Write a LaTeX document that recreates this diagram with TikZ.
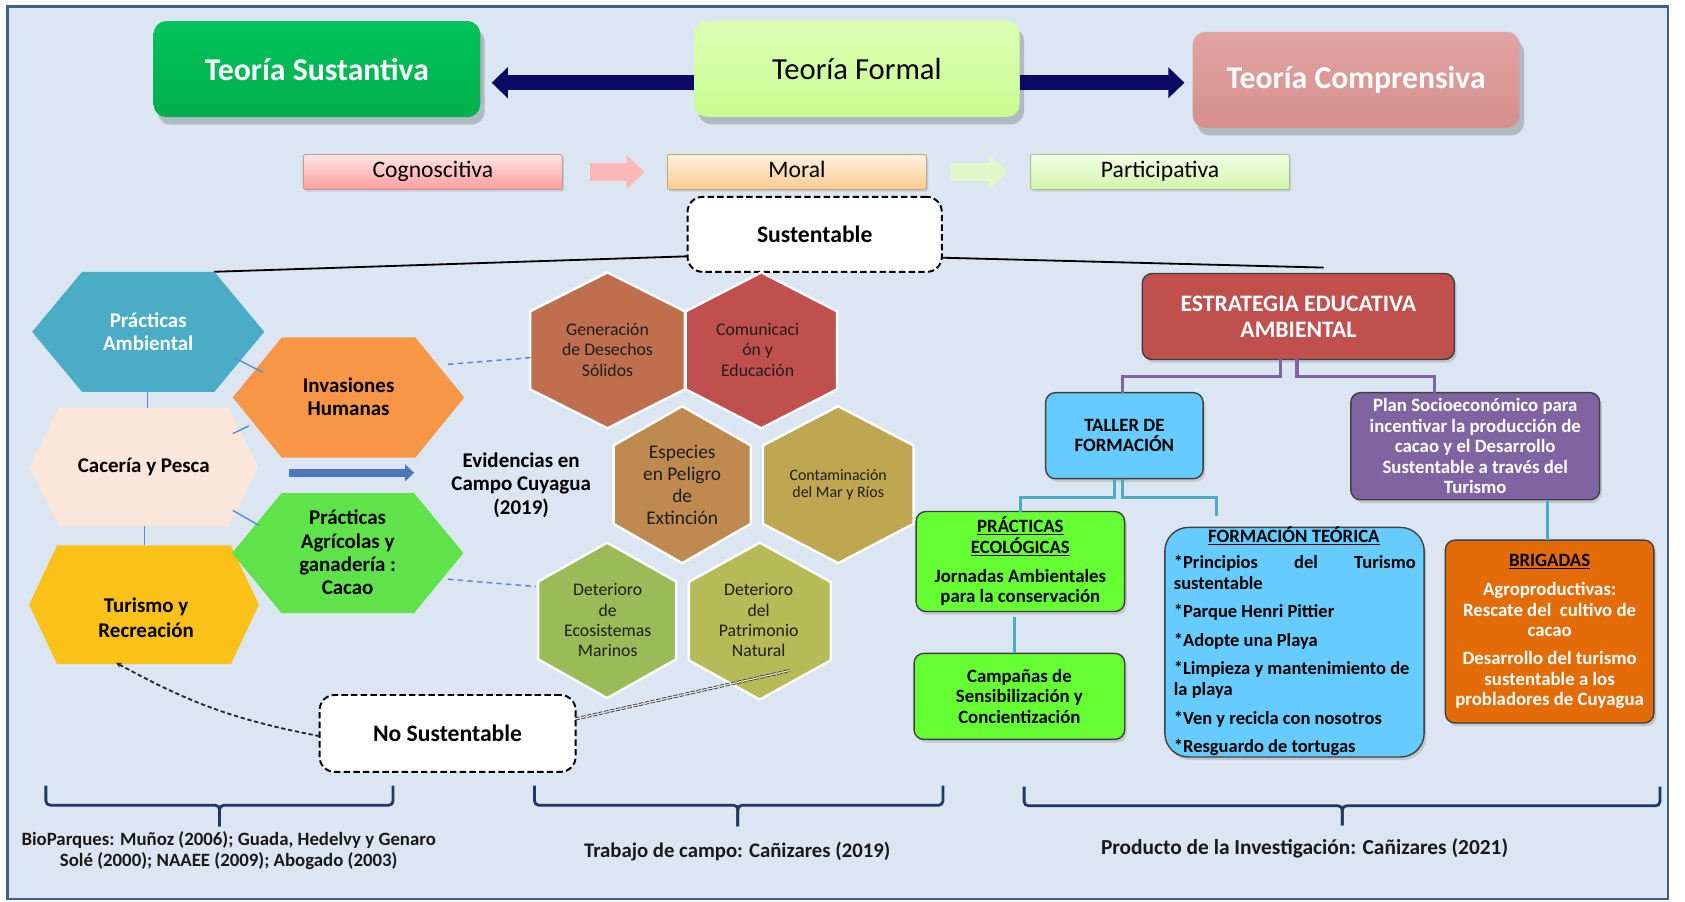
\documentclass[tikz,border=0pt]{standalone}
\usepackage{fontspec}
\setmainfont{Carlito}
\usetikzlibrary{shadows,arrows.meta}
\newcommand\fsz[2]{\fontsize{#1pt}{#2pt}\selectfont}
\definecolor{bgc}{HTML}{DCE6F2}
\definecolor{frame}{HTML}{41618C}
\definecolor{navy}{HTML}{0B0B66}
\definecolor{gsusT}{HTML}{00C45A}
\definecolor{gsus}{HTML}{00AE4E}
\definecolor{gformT}{HTML}{DDFFB5}
\definecolor{gform}{HTML}{C8FC90}
\definecolor{pcompT}{HTML}{E0A4A2}
\definecolor{pcomp}{HTML}{D68F8D}
\definecolor{cogT}{HTML}{FFE5E5}
\definecolor{cogB}{HTML}{FF9C9C}
\definecolor{cogD}{HTML}{C79A9A}
\definecolor{morT}{HTML}{FFF1DD}
\definecolor{morB}{HTML}{FCCB92}
\definecolor{morD}{HTML}{C9A27A}
\definecolor{parT}{HTML}{F3FFE8}
\definecolor{parB}{HTML}{D0F5AA}
\definecolor{parD}{HTML}{A9C48A}
\definecolor{pinkA}{HTML}{FFB8B8}
\definecolor{greenA}{HTML}{E2F7C9}
\definecolor{hpa}{HTML}{4BACC6}
\definecolor{hih}{HTML}{F79646}
\definecolor{hcp}{HTML}{FBE6DA}
\definecolor{hag}{HTML}{60E24A}
\definecolor{htr}{HTML}{FAC218}
\definecolor{hgen}{HTML}{BF6E4E}
\definecolor{hcom}{HTML}{C0504D}
\definecolor{hesp}{HTML}{BF8A50}
\definecolor{hcon}{HTML}{BFA650}
\definecolor{heco}{HTML}{9BBB59}
\definecolor{hpat}{HTML}{B6BB57}
\definecolor{cest}{HTML}{C0504D}
\definecolor{csky}{HTML}{66CCFF}
\definecolor{cpur}{HTML}{8064A2}
\definecolor{cgrn}{HTML}{66FF33}
\definecolor{cora}{HTML}{E36C09}
\definecolor{cteal}{HTML}{4BACC6}
\definecolor{cbrace}{HTML}{1F3864}
\definecolor{cdash}{HTML}{5B8BC9}
\definecolor{harrow}{HTML}{4A78B8}
\definecolor{txt}{HTML}{1E1E1E}

\newcommand\hexh[6]{\fill[#1] (#2-#4,#3) -- (#2-#4+#6,#3-#5) -- (#2+#4-#6,#3-#5) -- (#2+#4,#3) -- (#2+#4-#6,#3+#5) -- (#2-#4+#6,#3+#5) -- cycle;}
\newcommand\hexv[5]{\filldraw[fill=#1,draw=white,line width=2.2pt] (#2,#3-#5) -- (#2+#4,#3-#5/2) -- (#2+#4,#3+#5/2) -- (#2,#3+#5) -- (#2-#4,#3+#5/2) -- (#2-#4,#3-#5/2) -- cycle;}

\begin{document}
\begin{tikzpicture}[x=1pt,y=-1pt,
  every node/.style={inner sep=0pt, outer sep=0pt},
  topbox/.style={rounded corners=12pt, minimum height=89.5pt, font=\fsz{29.5}{32}\bfseries,
     drop shadow={shadow xshift=4pt,shadow yshift=-7pt,opacity=0.25,fill=black!80}},
  rowbox/.style={rounded corners=2pt, minimum width=241pt, minimum height=32.6pt, draw=#1, line width=0.8pt,
     text height=15pt, text depth=5pt,
     font=\fsz{22}{24}, drop shadow={shadow xshift=1.5pt,shadow yshift=-2pt,opacity=0.25}},
  bigarrow/.style={line width=14pt, draw=navy, -{Triangle[length=15pt,width=28pt]}},
  blockarrow/.style={line width=16pt, draw=#1, -{Triangle[length=17pt,width=31pt]}},
  dashbox/.style={draw=black, fill=white, dash pattern=on 6pt off 3pt, line width=1.8pt, rounded corners=14pt,
     font=\fsz{22}{24}\bfseries},
  hexlink/.style={draw=cdash, line width=1.3pt},
  dashlink/.style={draw=cdash, line width=1.4pt, dash pattern=on 5pt off 4pt},
  hexl/.style={font=\fsz{19.5}{21.5}\bfseries, align=center},
  hexm/.style={font=\fsz{16.5}{19}, align=center, text=txt},
  rbox/.style={rounded corners=9pt, draw=black!75, line width=1.3pt,
     drop shadow={shadow xshift=2pt,shadow yshift=-3pt,opacity=0.3}},
  rtext/.style={font=\fsz{17.5}{19}\bfseries, align=center},
  purp/.style={draw=cpur, line width=3pt},
  tealc/.style={draw=cteal, line width=3pt},
  brace/.style={draw=cbrace, line width=2.6pt, rounded corners=4pt},
  btext/.style={align=center, text=black!90},
]
\useasboundingbox (0,0) rectangle (1568,839);
\fill[white] (0,0) rectangle (1568,839);
\filldraw[fill=bgc, draw=frame, line width=2pt] (7,6) rectangle (1552,836.5);

% top row
\node[topbox, minimum width=304pt, top color=gsusT, bottom color=gsus, text=white] (ts) at (294.9,64.3) {Teoría Sustantiva};
\node[topbox, minimum width=303pt, top color=gformT, bottom color=gform, text=black, font=\fsz{28.5}{32}] (tf) at (797.4,64) {Teoría Formal};
\node[topbox, minimum width=304.4pt, top color=pcompT, bottom color=pcomp, text=white] (tc) at (1262,74.3) {Teoría Comprensiva};
\draw[bigarrow] ([yshift=-13pt]tf.west) -- ([xshift=10.6pt,yshift=-12.7pt]ts.east);
\draw[bigarrow] ([yshift=-13pt]tf.east) -- ([xshift=-7.6pt,yshift=-2.7pt]tc.west);

% second row
\node[rowbox=cogD, top color=cogT, bottom color=cogB] (cog) at (402.8,160.1) {Cognoscitiva};
\node[rowbox=morD, top color=morT, bottom color=morB] (mor) at (741.6,160.1) {Moral};
\node[rowbox=parD, top color=parT, bottom color=parB] (par) at (1079.5,160.1) {Participativa};
\draw[blockarrow=pinkA] ([xshift=25.4pt]cog.east) -- ([xshift=-21.2pt]mor.west);
\draw[blockarrow=greenA] ([xshift=22.3pt]mor.east) -- ([xshift=-21.7pt]par.west);

% Sustentable
\coordinate (pa-tr) at (199.3,252.9);
\coordinate (est-top) at (1231.6,249);
\node[dashbox, minimum width=236.6pt, minimum height=69.8pt] (sus) at (758.1,218.1) {Sustentable};
\draw[line width=1.7pt] ([yshift=-20.4pt]sus.west) -- (pa-tr);
\draw[line width=1.7pt] ([yshift=-21.7pt]sus.east) -- (est-top);

% left hexagons
\hexh{hpa}{137.9}{308.8}{108}{55.9}{46.5}
\hexh{hih}{324.3}{369.9}{107.7}{55.9}{45.5}
\hexh{hcp}{133.8}{434.6}{106.2}{55}{27.2}
\hexh{htr}{134}{562.7}{106.9}{55.2}{26}
\hexh{hag}{323.6}{514.7}{107.6}{55.9}{46}
\node[hexl, text=white] (pa) at (137.9,308.5) {Prácticas\\Ambiental};
\node[hexl] (ih) at (324.4,369.3) {Invasiones\\Humanas};
\node[hexl] (cp) at (133.8,434.6) {Cacería y Pesca};
\node[hexl] (ag) at (323.5,514) {Prácticas\\Agrícolas y\\ganadería :\\Cacao};
\node[hexl, font=\fsz{19.5}{23.3}\bfseries] (tr) at (136,575) {Turismo y\\Recreación};
\coordinate (l1a) at (137.2,364.7); \coordinate (l1b) at (137.2,379.6);
\coordinate (l2a) at (217.6,332.7); \coordinate (l2b) at (244.9,346.7);
\coordinate (l3a) at (216.6,403.5); \coordinate (l3b) at (231.6,396.3);
\coordinate (l4a) at (216.6,474.9); \coordinate (l4b) at (240.9,488.9);
\coordinate (l5a) at (134.6,489.5); \coordinate (l5b) at (134.6,507.5);
\draw[hexlink] (l1a) -- (l1b);
\draw[hexlink] (l2a) -- (l2b);
\draw[hexlink] (l3a) -- (l3b);
\draw[hexlink] (l4a) -- (l4b);
\draw[hexlink] (l5a) -- (l5b);

% evidencias
\node[font=\fsz{19.5}{21.8}\bfseries, align=center] (ev) at (485,451.5) {Evidencias en\\Campo Cuyagua\\(2019)};
\coordinate (ba-s) at (269,440); \coordinate (ba-e) at (385.4,440);
\draw[line width=7pt, draw=harrow, -{Triangle[length=8.5pt,width=15.5pt]}] (ba-s) -- (ba-e);

% middle hexagons
\hexv{hgen}{565.3}{326}{72}{72.5}
\hexv{hcom}{708.5}{326}{70.5}{72.5}
\hexv{hesp}{634.8}{451}{63.8}{73}
\hexv{hcon}{780}{451}{70}{73}
\hexv{heco}{565}{577.3}{64.2}{72.3}
\hexv{hpat}{707}{578}{66}{73}
\node[hexm] (gen) at (565.3,325.5) {Generación\\de Desechos\\Sólidos};
\node[hexm] (com) at (705,325.5) {Comunicaci\\ón y\\Educación};
\node[hexm, font=\fsz{18}{20.3}] (esp) at (634.8,451.4) {Especies\\en Peligro\\de\\Extinción};
\node[hexm, font=\fsz{14.8}{16.2}] (con) at (780,451) {Contaminación\\del Mar y Ríos};
\node[hexm, font=\fsz{16.5}{18.7}] (eco) at (565.5,577) {Deterioro\\de\\Ecosistemas\\Marinos};
\node[hexm, font=\fsz{16.5}{18.7}] (pat) at (706,577) {Deterioro\\del\\Patrimonio\\Natural};
\coordinate (dl1a) at (417,339); \coordinate (dl1b) at (497.6,332.5);
\coordinate (dl2a) at (417,539); \coordinate (dl2b) at (498.6,545.8);
\draw[dashlink] (dl1a) -- (dl1b);
\draw[dashlink] (dl2a) -- (dl2b);

% No Sustentable
\node[dashbox, minimum width=238.2pt, minimum height=71.5pt] (ns) at (416.5,682.5) {No Sustentable};
\coordinate (tr-b) at (108,616.7);
\coordinate (pat-p) at (735,624);
\draw[line width=1.7pt, draw=black!85, dash pattern=on 4pt off 2.5pt, -{Stealth[length=5pt,width=5pt]}] ([yshift=-2.5pt]ns.west) to[bend left=9] (tr-b);
\draw[line width=0.8pt, draw=black!80, double=white!85!gray, double distance=1.2pt, dash pattern=on 4pt off 1.5pt] ([yshift=13.5pt]ns.east) -- (pat-p);

% braces
\draw[brace] (42.7,731) |- (204.3,749.3) -- (204.3,769);
\draw[brace] (365.8,731) |- (204.3,749.3) -- (204.3,769);
\draw[brace] (497.4,731) |- (686.6,749.3) -- (686.6,769);
\draw[brace] (877.5,731) |- (686.6,749.3) -- (686.6,769);
\draw[brace] (953,732) |- (1249.1,749.8) -- (1249.1,768);
\draw[brace] (1544.7,732) |- (1249.1,749.8) -- (1249.1,768);
\node[btext, font=\fsz{17.5}{19}\bfseries] (bt1) at (212.8,791.5) {BioParques: Muñoz (2006); Guada, Hedelvy y Genaro\\Solé (2000); NAAEE (2009); Abogado (2003)};
\node[btext, font=\fsz{19.3}{20}\bfseries] (bt2) at (686,792.8) {Trabajo de campo: Cañizares (2019)};
\node[btext, font=\fsz{19.9}{21}\bfseries] (bt3) at (1214,789.5) {Producto de la Investigación: Cañizares (2021)};

% right side
\node[rbox, fill=cest, minimum width=290.4pt, minimum height=80pt, text=white, font=\fsz{22}{24.3}\bfseries, align=center] (est) at (1208.2,294.5) {ESTRATEGIA EDUCATIVA\\AMBIENTAL};
\node[rbox, fill=csky, minimum width=146.5pt, minimum height=80pt, rtext] (tal) at (1046.3,405.4) {TALLER DE\\FORMACIÓN};
\node[rbox, fill=cpur, minimum width=231.6pt, minimum height=99.7pt, rtext, text=white] (plan) at (1372.8,415.2) {Plan Socioeconómico para\\incentivar la producción de\\cacao y el Desarrollo\\Sustentable a través del\\Turismo};
\node[rbox, fill=cgrn, minimum width=194pt, minimum height=93pt, rtext] (pe) at (949.5,522.5) {\underline{PRÁCTICAS}\\\underline{ECOLÓGICAS}\\[8pt]Jornadas Ambientales\\para la conservación};
\node[rbox, fill=cgrn, minimum width=196pt, minimum height=80pt, rtext] (cam) at (948.6,648) {Campañas de\\Sensibilización y\\Concientización};
\node[rbox, fill=csky, rounded corners=22pt, minimum width=241.3pt, minimum height=213.6pt] (ft) at (1204.6,597.6) {};
\node[rtext] (ftt) at (1204,498.5) {\underline{FORMACIÓN TEÓRICA}};
\node[rtext, align=left, anchor=west, font=\fsz{17.2}{19.5}\bfseries] (ftl) at (1092.4,610) {\makebox[225pt][s]{*Principios\hfill del\hfill Turismo}\\sustentable\\[7pt]*Parque Henri Pittier\\[7pt]*Adopte una Playa\\[7pt]*Limpieza y mantenimiento de\\la playa\\[7pt]*Ven y recicla con nosotros\\[7pt]*Resguardo de tortugas};
\node[rbox, fill=cora, minimum width=194pt, minimum height=170.2pt, rtext, text=white] (bri) at (1442,587.7) {{\color{black}\underline{BRIGADAS}}\\[8pt]Agroproductivas:\\Rescate del\ \ cultivo de\\cacao\\[7pt]Desarrollo del turismo\\sustentable a los\\probladores de Cuyagua};

\draw[purp] ([xshift=-16.6pt]est.south) -- ++(0,16.2) -| ([xshift=-1.6pt]tal.north);
\draw[purp] ([xshift=-1.2pt]est.south) -- ++(0,16.2) -| ([xshift=-38.1pt]plan.north);
\coordinate (ftc) at (1132,480.5);
\draw[tealc] ([xshift=-9.5pt]tal.south) -- ++(0,17.6) -| (pe.north);
\draw[tealc] ([xshift=-1.6pt]tal.south) -- ++(0,17.6) -| (ftc);
\coordinate (bc) at ([xshift=-2pt]bri.north);
\draw[tealc] (bc |- plan.south) -- (bc);
\coordinate (pc) at ([xshift=-5.5pt,yshift=-5pt]pe.south);
\draw[tealc] (pc) -- (pc |- cam.north);
\end{tikzpicture}
\end{document}
